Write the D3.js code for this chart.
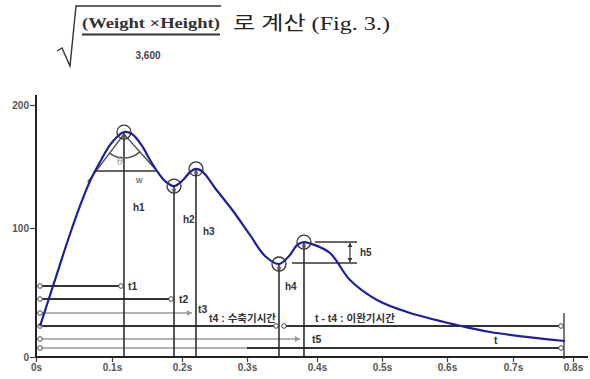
<!DOCTYPE html>
<html><head><meta charset="utf-8">
<script src="https://cdn.jsdelivr.net/npm/d3@7"></script>
<style>body{margin:0;background:#fff} svg{display:block}</style>
</head><body><svg id="c" width="590" height="379"></svg>
<script>
// ---- data ----
const timeTicks = [0, 0.1, 0.2, 0.3, 0.4, 0.5, 0.6, 0.7, 0.8];
const timeLabels = ["0s", "0.1s", "0.2s", "0.3s", "0.4s", "0.5s", "0.6s", "0.7s", "0.8s"];
const valueTicks = [0, 100, 200];
const valueLabels = ["0", "100", "200"];
const waveTime  = [0.0053, 0.0237, 0.0421, 0.0579, 0.0711, 0.0842, 0.0974, 0.1071, 0.1171, 0.1286, 0.1429, 0.1543, 0.1643, 0.1757, 0.1886, 0.2015, 0.2123, 0.2215, 0.2323, 0.2508, 0.2785, 0.3043, 0.3257, 0.3457, 0.3614, 0.3714, 0.3814, 0.3929, 0.4200, 0.4508, 0.4923, 0.5385, 0.6152, 0.6652, 0.7867];
const waveValue = [24.0, 57.4, 90.7, 117.9, 138.2, 153.7, 167.5, 174.0, 178.0, 176.4, 166.7, 155.3, 146.3, 138.2, 134.1, 139.0, 145.5, 148.0, 145.5, 132.5, 113.8, 94.6, 78.3, 72.1, 79.1, 86.8, 89.1, 87.6, 80.6, 59.7, 44.2, 34.9, 24.8, 19.4, 12.4];
const featureNames = ["h1", "h2", "h3", "h4", "h5"];
const featureTime  = [0.1171, 0.1886, 0.2215, 0.3457, 0.3814];
const featureValue = [178.0, 134.1, 148.0, 72.1, 89.1];
const intervalNames = ["t1", "t2", "t3", "t4", "t5", "t"];
const intervalEnd   = [0.1171, 0.1886, 0.2215, 0.3457, 0.3814, 0.785];
const widthLevelTime = [0.079, 0.1643]; // w: width of the first peak
const widthLevelValue = 146.3;

// ---- scales ----
const svg = d3.select("#c");
const x = d3.scaleLinear().domain(timeTicks).range([36, 112, 182, 247, 317, 382, 447, 513, 573]);
const y = d3.scaleLinear().domain(valueTicks).range([357, 228, 105]);
const sans = "'Liberation Sans', Arial, sans-serif";

// ---- header formula ----
const hdr = svg.append("g");
hdr.append("path").attr("d", "M57,51 L62,48 L70,66 L76,6 L221,6")
  .attr("fill", "none").attr("stroke", "#333").attr("stroke-width", 1.4);
hdr.append("text").attr("x", 82).attr("y", 28).attr("textLength", 138).attr("lengthAdjust", "spacingAndGlyphs")
  .attr("font-family", "'Liberation Serif', serif").attr("font-weight", "bold").attr("font-size", 14)
  .attr("fill", "#333").text("(Weight ×Height)");
hdr.append("line").attr("x1", 82).attr("x2", 220).attr("y1", 34.5).attr("y2", 34.5)
  .attr("stroke", "#333").attr("stroke-width", 2);
hdr.append("text").attr("x", 148).attr("y", 59).attr("text-anchor", "middle")
  .attr("font-family", sans).attr("font-weight", "bold").attr("font-size", 10).attr("fill", "#444").text("3,600");
hdr.append("text").attr("x", 233).attr("y", 30).attr("textLength", 157).attr("lengthAdjust", "spacingAndGlyphs")
  .attr("font-family", "'Liberation Serif', 'Noto Sans CJK KR', serif").attr("font-size", 19)
  .attr("fill", "#222").text("로 계산 (Fig. 3.)");

// ---- axes ----
const xAxis = d3.axisBottom(x).tickValues(timeTicks).tickFormat((d, i) => timeLabels[i]).tickSize(5).tickPadding(2);
const gx = svg.append("g").attr("transform", `translate(0,${y(0)})`).call(xAxis);
gx.select(".domain").remove();
gx.selectAll(".tick line").attr("stroke", "#444").attr("stroke-width", 1.2);
gx.selectAll(".tick text").attr("font-family", sans).attr("font-weight", "bold").attr("font-size", 10).attr("fill", "#555");
svg.append("line").attr("x1", x(0)).attr("x2", 588).attr("y1", y(0)).attr("y2", y(0)).attr("stroke", "#222").attr("stroke-width", 2);

const yAxis = d3.axisLeft(y).tickValues(valueTicks).tickFormat((d, i) => valueLabels[i]).tickSize(6).tickPadding(1);
const gy = svg.append("g").attr("transform", `translate(${x(0)},0)`).call(yAxis);
gy.select(".domain").remove();
gy.selectAll(".tick line").attr("stroke", "#444").attr("stroke-width", 1.2);
gy.selectAll(".tick text").attr("font-family", sans).attr("font-weight", "bold").attr("font-size", 10).attr("fill", "#555");
svg.append("line").attr("x1", x(0)).attr("x2", x(0)).attr("y1", 95).attr("y2", y(0)).attr("stroke", "#222").attr("stroke-width", 2);

// ---- interval lines ----
const levels = [286, 299, 313, 326, 339, 348];
const styles = ["dark", "dark", "arrow", "dark", "arrow", "dark"];
const x0 = x(0) + 4;
function endCircle(cx, cy) {
  svg.append("circle").attr("cx", cx).attr("cy", cy).attr("r", 2.3).attr("fill", "#fff").attr("stroke", "#444").attr("stroke-width", 1);
}
intervalNames.forEach((name, i) => {
  const yy = levels[i];
  const xe = x(intervalEnd[i]);
  if (styles[i] === "dark") {
    if (name === "t") {
      svg.append("line").attr("x1", x0).attr("x2", x(0.3)).attr("y1", yy).attr("y2", yy).attr("stroke", "#999").attr("stroke-width", 1.3);
      svg.append("line").attr("x1", x(0.3)).attr("x2", xe - 3).attr("y1", yy).attr("y2", yy).attr("stroke", "#333").attr("stroke-width", 1.8);
    } else {
      svg.append("line").attr("x1", x0).attr("x2", xe - 3).attr("y1", yy).attr("y2", yy).attr("stroke", "#333").attr("stroke-width", 1.8);
    }
    endCircle(x0, yy); endCircle(xe - 3, yy);
  } else {
    svg.append("line").attr("x1", x0).attr("x2", xe - 4).attr("y1", yy).attr("y2", yy).attr("stroke", "#999").attr("stroke-width", 1.3);
    svg.append("path").attr("d", `M${xe - 4},${yy} l-5,-3 l0,6 z`).attr("fill", "#999");
    endCircle(x0, yy);
  }
});
// diastolic line t - t4
svg.append("line").attr("x1", x(intervalEnd[3]) + 5).attr("x2", x(intervalEnd[5]) - 3).attr("y1", levels[3]).attr("y2", levels[3]).attr("stroke", "#333").attr("stroke-width", 1.8);
endCircle(x(intervalEnd[3]) + 5, levels[3]); endCircle(x(intervalEnd[5]) - 3, levels[3]);
// end vertical line at t
svg.append("line").attr("x1", x(intervalEnd[5])).attr("x2", x(intervalEnd[5])).attr("y1", 313).attr("y2", y(0) + 2).attr("stroke", "#333").attr("stroke-width", 1.3);

// interval labels
const lab = (tx, ty, s, size) => svg.append("text").attr("x", tx).attr("y", ty).attr("dy", "0.35em")
  .attr("font-family", "'Liberation Sans', 'Noto Sans CJK KR', sans-serif").attr("font-weight", "bold")
  .attr("font-size", size || 10.5).attr("fill", "#333").text(s);
lab(x(intervalEnd[0]) + 4, levels[0], "t1");
lab(x(intervalEnd[1]) + 5, levels[1], "t2");
lab(x(intervalEnd[2]) + 2, levels[2] - 4, "t3");
lab(209, levels[3] - 8, "t4 : 수축기시간", 10.5);
lab(315, levels[3] - 8, "t - t4 : 이완기시간", 10.5);
lab(x(intervalEnd[4]) + 8, levels[4], "t5");
lab(494, levels[5] - 8, "t");

// ---- feature verticals ----
featureNames.forEach((n, i) => {
  svg.append("line").attr("x1", x(featureTime[i])).attr("x2", x(featureTime[i]))
    .attr("y1", y(featureValue[i])).attr("y2", y(0)).attr("stroke", "#222").attr("stroke-width", 1.5);
});

// ---- peak angle / width ----
const ax = x(featureTime[0]), ay = y(featureValue[0]) + 2;
const wy = y(widthLevelValue);
const lx = x(widthLevelTime[0]), rx = x(widthLevelTime[1]);
svg.append("line").attr("x1", lx).attr("x2", rx).attr("y1", wy).attr("y2", wy).attr("stroke", "#333").attr("stroke-width", 1.4);
const ext = 1.3;
svg.append("line").attr("x1", ax).attr("y1", ay).attr("x2", ax + (lx - ax) * ext).attr("y2", ay + (wy - ay) * ext).attr("stroke", "#444").attr("stroke-width", 1.3);
svg.append("line").attr("x1", ax).attr("y1", ay).attr("x2", rx).attr("y2", wy).attr("stroke", "#444").attr("stroke-width", 1.3);
{
  const r = 24;
  const a1 = Math.atan2(wy - ay, lx - ax), a2 = Math.atan2(wy - ay, rx - ax);
  const p1 = [ax + r * Math.cos(a1), ay + r * Math.sin(a1)], p2 = [ax + r * Math.cos(a2), ay + r * Math.sin(a2)];
  svg.append("path").attr("d", `M${p1[0]},${p1[1]} A${r},${r} 0 0 0 ${p2[0]},${p2[1]}`)
    .attr("fill", "none").attr("stroke", "#555").attr("stroke-width", 1.6);
}
svg.append("text").attr("x", ax - 7).attr("y", ay + 31).attr("font-family", "'Liberation Serif', serif").attr("font-style", "italic")
  .attr("font-size", 12).attr("fill", "#999").text("θ");
svg.append("text").attr("x", ax + 12).attr("y", wy + 12).attr("font-family", sans).attr("font-size", 9).attr("fill", "#444").text("w");

// ---- h5 bracket ----
const h5x = x(featureTime[4]), h5top = y(featureValue[4]), h5bot = y(featureValue[3]) - 1;
svg.append("line").attr("x1", h5x + 11).attr("x2", h5x + 53).attr("y1", h5top).attr("y2", h5top).attr("stroke", "#333").attr("stroke-width", 1.4);
svg.append("line").attr("x1", x(featureTime[3]) + 13).attr("x2", h5x + 53).attr("y1", h5bot).attr("y2", h5bot).attr("stroke", "#333").attr("stroke-width", 1.4);
svg.append("line").attr("x1", h5x + 46).attr("x2", h5x + 46).attr("y1", h5top + 1).attr("y2", h5bot - 1).attr("stroke", "#333").attr("stroke-width", 1.2);
svg.append("path").attr("d", `M${h5x + 46},${h5top + 1} l-2.5,4 l5,0 z M${h5x + 46},${h5bot - 1} l-2.5,-4 l5,0 z`).attr("fill", "#333");

// ---- waveform ----
const pts = waveTime.map((t, i) => [x(t), y(waveValue[i])]);
svg.append("path").attr("d", d3.line().curve(d3.curveCatmullRom.alpha(0.5))(pts))
  .attr("fill", "none").attr("stroke", "#1f1f9e").attr("stroke-width", 2.2);

// ---- feature circles and labels ----
const labelOff = [[9, 75], [9, 33], [7, 63], [6, 23], [56, 10]];
featureNames.forEach((n, i) => {
  const cx = x(featureTime[i]), cy = y(featureValue[i]);
  svg.append("circle").attr("cx", cx).attr("cy", cy).attr("r", 7).attr("fill", "none").attr("stroke", "#333").attr("stroke-width", 1.3);
  svg.append("circle").attr("cx", cx).attr("cy", cy + 4).attr("r", 1.8).attr("fill", "none").attr("stroke", "#555").attr("stroke-width", 0.8);
  svg.append("text").attr("x", cx + labelOff[i][0]).attr("y", cy + labelOff[i][1]).attr("dy", "0.35em")
    .attr("font-family", sans).attr("font-weight", "bold").attr("font-size", 10).attr("fill", "#333").text(n);
});
</script></body></html>
